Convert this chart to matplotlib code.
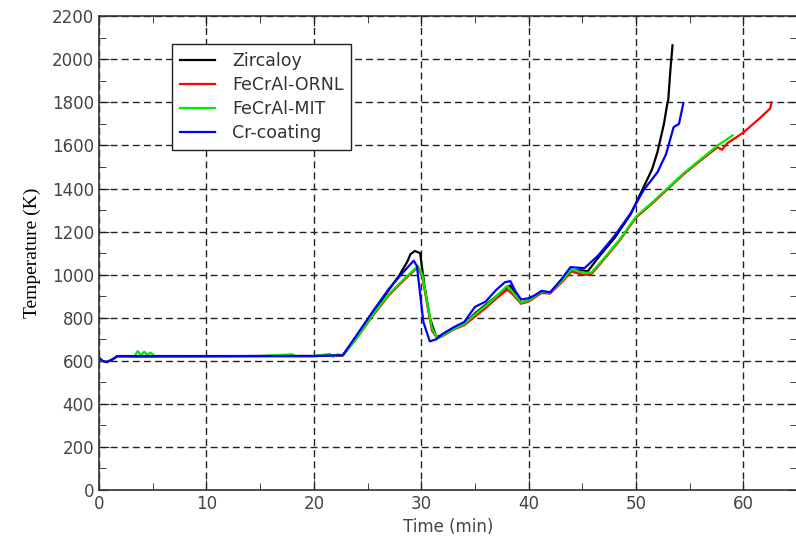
import matplotlib.pyplot as plt
from matplotlib.ticker import MultipleLocator

plt.rcParams['font.family'] = ['DejaVu Sans']

# Zircaloy
t_zr = [0, 0.3, 0.7, 1.2, 1.7, 5, 10, 15, 20, 22.7, 24, 25.5, 27, 28, 28.7, 29.0, 29.4,
        29.9, 30.3, 30.8, 31.4, 32, 33, 34, 35, 36, 37, 37.8, 38.3, 38.8, 39.3, 40, 40.6,
        41.2, 42, 43, 44, 45, 45.5, 46.5, 48, 49.5, 50.7, 51.5, 52, 52.6, 52.9, 53.0, 53.2, 53.4]
T_zr = [610, 600, 594, 605, 620, 620, 621, 622, 622, 625, 710, 820, 930, 1000, 1060, 1095, 1110,
        1100, 950, 800, 710, 720, 750, 770, 820, 860, 900, 935, 950, 900, 870, 880, 900,
        920, 915, 970, 1020, 1020, 1015, 1080, 1170, 1280, 1406, 1490, 1570, 1700, 1790, 1810, 1950, 2065]

# FeCrAl-ORNL
t_ornl = [0, 0.3, 0.7, 1.2, 1.7, 5, 10, 15, 20, 22.7, 24, 25.5, 27, 28.5, 29.7,
          30.1, 30.6, 31.0, 31.5, 32, 33, 34, 35, 36, 37, 38.0, 38.5, 39.3, 40, 40.6,
          41.2, 42, 43, 44, 45, 45.8, 47, 48.5, 50, 51.5, 53, 54.4, 56, 57.6, 58.0, 58.5,
          60, 61.6, 62.5, 62.6]
T_ornl = [610, 600, 594, 605, 620, 620, 621, 622, 622, 625, 705, 810, 905, 980, 1035,
          990, 850, 740, 705, 715, 745, 765, 805, 845, 890, 930, 910, 865, 875, 895,
          915, 912, 960, 1015, 1000, 1000, 1070, 1160, 1265, 1330, 1400, 1465, 1530, 1592, 1580, 1610,
          1660, 1730, 1772, 1800]

# FeCrAl-MIT
t_mit = [0, 0.3, 0.7, 1.2, 1.7, 3.3, 3.6, 3.9, 4.2, 4.5, 4.8, 5.2, 10, 15, 18, 18.3, 20,
         21.5, 21.8, 22.2, 22.7, 24, 25.5, 27, 28.5, 29.7,
         30.1, 30.6, 31.0, 31.5, 32, 33, 34, 35, 36, 37, 38.0, 38.5, 39.3, 40, 40.6,
         41.2, 42, 43, 44, 45, 45.8, 47, 48.5, 50, 51.5, 53, 54.4, 56, 57.6, 59.0]
T_mit = [610, 600, 594, 605, 620, 620, 645, 625, 642, 628, 638, 621, 621, 622, 630, 622, 622,
         632, 618, 630, 625, 705, 815, 910, 985, 1040,
         1000, 860, 750, 705, 718, 748, 770, 815, 855, 900, 948, 920, 870, 880, 900,
         922, 915, 965, 1025, 1010, 1008, 1075, 1165, 1270, 1335, 1405, 1470, 1535, 1600, 1647]

# Cr-coating
t_cr = [0, 0.3, 0.7, 1.2, 1.7, 5, 10, 15, 20, 22.7, 24, 25.5, 27, 28.3, 29.3,
        29.6, 30.2, 30.8, 31.4, 32, 33, 34, 35, 36, 37, 37.8, 38.3, 38.8, 39.3, 40, 40.6,
        41.2, 42, 43, 43.9, 45.2, 46.5, 48, 49.5, 50.7, 52, 52.8, 53.5, 54.0, 54.4]
T_cr = [615, 600, 594, 605, 622, 622, 622, 622, 622, 626, 720, 830, 935, 1010, 1065,
        1040, 780, 690, 700, 725, 755, 780, 850, 875, 930, 965, 970, 920, 885, 890, 905,
        925, 918, 975, 1035, 1030, 1090, 1180, 1285, 1392, 1476, 1560, 1685, 1700, 1795]

series = [('Zircaloy', t_zr, T_zr, 'black'),
          ('FeCrAl-ORNL', t_ornl, T_ornl, 'red'),
          ('FeCrAl-MIT', t_mit, T_mit, '#00ee00'),
          ('Cr-coating', t_cr, T_cr, 'blue')]

fig = plt.figure(figsize=(7.96, 5.42), dpi=100)
ax = fig.add_axes([0.1244, 0.096, 0.877, 0.874])

for name, t, T, c in series:
    ax.plot(t, T, color=c, lw=1.6, label=name)

ax.set_xlim(0, 65)
ax.set_ylim(0, 2200)
ax.xaxis.set_major_locator(MultipleLocator(10))
ax.xaxis.set_minor_locator(MultipleLocator(5))
ax.yaxis.set_major_locator(MultipleLocator(200))
ax.yaxis.set_minor_locator(MultipleLocator(100))
ax.tick_params(which='both', direction='in', top=True, right=True, colors='#222',
               labelcolor='#444', labelsize=12)
ax.tick_params(which='major', length=7)
ax.tick_params(which='minor', length=5)
ax.grid(True, which='major', color='#222', linestyle=(0, (5, 3)), lw=1.0)
for s in ax.spines.values():
    s.set_color('#333')
    s.set_linewidth(1.2)

ax.set_xlabel('Time (min)', fontsize=12, color='#444', labelpad=4)
ax.set_ylabel('Temperature (K)', fontsize=14, family='Liberation Serif', labelpad=8)

leg = ax.legend(loc='upper left', bbox_to_anchor=(0.1046, 0.941), borderaxespad=0,
                fancybox=False, framealpha=1, edgecolor='#222', fontsize=12.5,
                handlelength=2.0, labelspacing=0.35, borderpad=0.45, handletextpad=1.0)
for txt in leg.get_texts():
    txt.set_color('#333')
leg.get_frame().set_linewidth(1.0)

fig.savefig('out.png', dpi=100)
